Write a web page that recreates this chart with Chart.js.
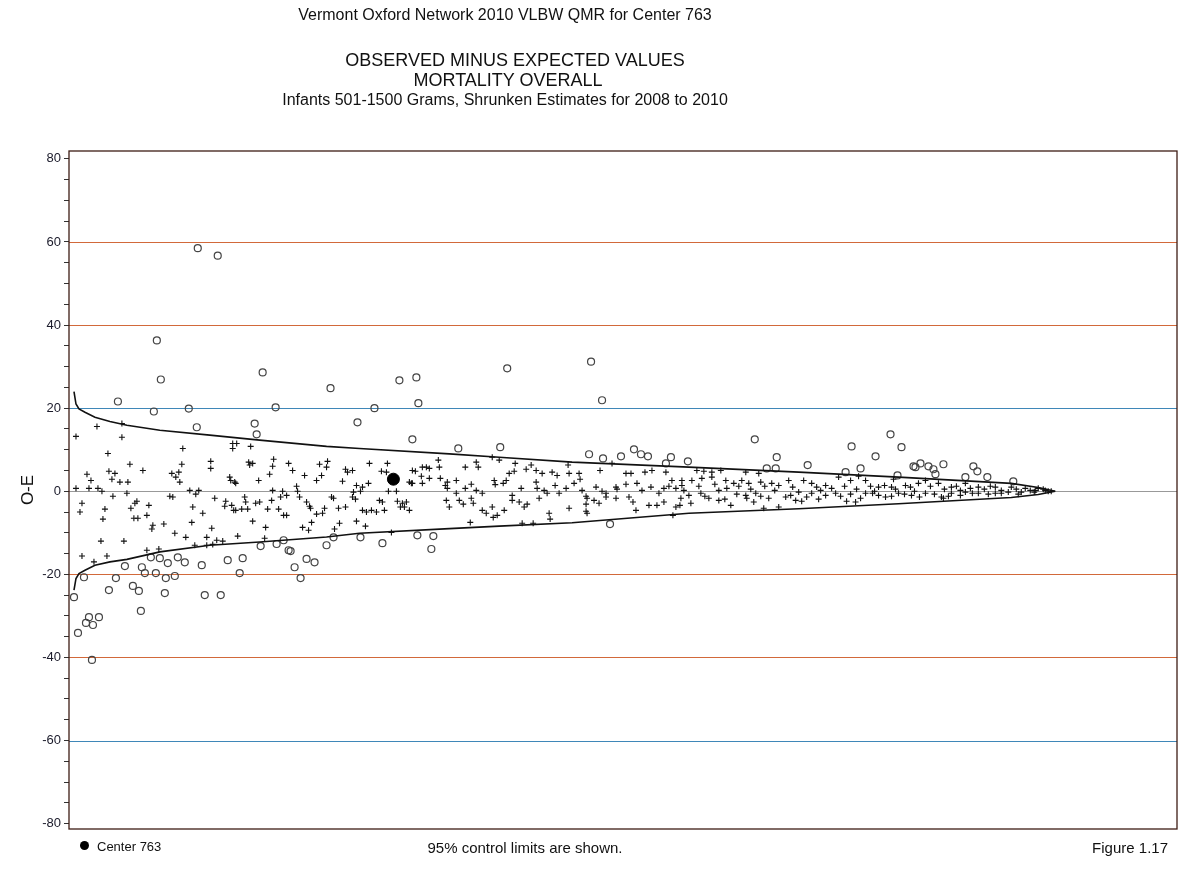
<!DOCTYPE html>
<html>
<head>
<meta charset="utf-8">
<script src="https://cdn.jsdelivr.net/npm/chart.js@4.4.0/dist/chart.umd.min.js"></script>
<style>
  html, body { margin: 0; padding: 0; background: #fff; }
  #wrap { position: relative; width: 1184px; height: 883px; font-family: "Liberation Sans", Arial, sans-serif; color: #111; }
  #wrap canvas { position: absolute; left: 0; top: 0; }
  .txt { position: absolute; white-space: nowrap; line-height: 1; }
  .ctr { transform: translateX(-50%); }
  .dot { position: absolute; width: 9px; height: 9px; border-radius: 50%; background: #000; }
</style>
</head>
<body>
<div id="wrap">
  <canvas id="chart" width="1184" height="883"></canvas>
  <div class="txt ctr" style="left:505px; top:7px; font-size:16px;">Vermont Oxford Network 2010 VLBW QMR for Center 763</div>
  <div class="txt ctr" style="left:515px; top:51px; font-size:18px;">OBSERVED MINUS EXPECTED VALUES</div>
  <div class="txt ctr" style="left:508px; top:71px; font-size:18px;">MORTALITY OVERALL</div>
  <div class="txt ctr" style="left:505px; top:92px; font-size:16px;">Infants 501-1500 Grams, Shrunken Estimates for 2008 to 2010</div>
  <div class="dot" style="left:80px; top:841px;"></div>
  <div class="txt" style="left:97px; top:840px; font-size:13px;">Center 763</div>
  <div class="txt ctr" style="left:525px; top:840px; font-size:15px;">95% control limits are shown.</div>
  <div class="txt" style="right:16px; top:840px; font-size:15px;">Figure 1.17</div>
</div>
<script>
// x is the rank of each center along the funnel (no labelled axis), y is O-E

// 95% control limits
const limitX     = [5, 7, 10, 16, 26, 41, 58, 91, 141, 191, 258, 291, 381, 431, 504, 621, 731, 831, 944, 971, 988];
const upperLimit = [24.0, 21.0, 19.8, 19.0, 17.8, 16.8, 15.9, 14.7, 13.5, 12.3, 10.8, 10.3, 9.0, 8.2, 7.0, 5.8, 4.6, 3.4, 1.9, 0.9, 0];
const lowerLimit = [-23.8, -21.0, -19.8, -19.0, -17.8, -17.0, -16.4, -14.6, -13.0, -12.2, -11.0, -10.1, -9.0, -8.4, -7.6, -5.3, -4.2, -3.0, -1.5, -0.8, 0];

// centers outside the limits (open circles)
const outsideX = [129, 149, 88, 92, 194, 262, 49, 85, 120, 207, 128, 186, 188, 289, 306, 331, 348, 350, 344, 390, 432, 439, 523, 534,
  521, 535, 553, 566, 573, 580, 598, 603, 620, 687, 699, 708, 709, 740, 778, 784, 793, 808, 823, 830, 834, 846, 848, 853, 861, 866,
  868, 876, 898, 906, 910, 920, 946,
  5, 9, 15, 17, 20, 24, 30, 23, 40, 47, 56, 64, 70, 73, 76, 72, 82, 87, 91, 97, 96, 99, 106, 109, 116, 133, 136, 152, 159, 171, 174,
  192, 208, 215, 220, 222, 226, 232, 238, 246, 258, 265, 292, 314, 349, 365, 363, 542];
const outsideY = [58.5, 56.7, 36.3, 26.9, 28.6, 24.8, 21.6, 19.2, 19.9, 20.2, 15.4, 16.3, 13.7, 16.6, 20.0, 26.7, 27.4, 21.2, 12.5, 10.3, 10.6, 29.6, 31.2, 21.9,
  8.9, 7.9, 8.4, 10.1, 8.9, 8.4, 6.7, 8.2, 7.2, 12.5, 5.5, 5.5, 8.2, 6.3, 4.6, 10.8, 5.5, 8.4, 13.7, 3.8, 10.6, 6.0, 5.8, 6.7, 6.0, 5.3,
  4.1, 6.5, 3.4, 6.0, 4.8, 3.4, 2.4,
  -25.5, -34.1, -20.7, -31.7, -30.3, -32.2, -30.3, -40.6, -23.8, -20.9, -18.0, -22.8, -24.0, -18.3, -19.7, -28.8, -15.9, -19.7, -16.1, -20.9, -24.5, -17.3, -20.4, -15.9, -17.1, -17.8, -25.0, -25.0, -16.6, -19.7, -16.1,
  -13.2, -12.7, -11.8, -14.2, -14.4, -18.3, -20.9, -16.3, -17.1, -13.0, -11.1, -11.1, -12.5, -10.6, -10.8, -13.9, -7.9];

// centers inside the limits (crosses)
const insideX = [28, 53, 7, 53, 39, 61, 114, 113, 142, 142, 74, 18, 22, 40, 46, 43, 51, 59, 103, 110, 107, 111, 7, 20, 29, 33, 58, 121, 130, 127,
  101, 104, 44, 146, 161, 166, 157, 176, 180, 184, 13, 11, 36, 34, 68, 66, 62, 80, 78, 65, 69, 124, 134, 156, 163, 165, 173, 179, 187,
  84, 83, 95, 106, 123, 117, 143, 138, 148, 154, 169, 184, 32, 55, 13, 38, 78, 90, 126, 138, 144, 25,
  164, 168, 164, 182, 205, 204, 220, 224, 259, 258, 251, 253, 277, 279, 284, 301, 319, 318, 313, 344, 354, 181, 201, 167, 162, 190,
  236, 248, 228, 274, 288, 300, 294, 292, 204, 214, 229, 231, 218, 285, 320, 328, 341, 343, 347, 353, 354, 177, 191, 203, 212, 238,
  263, 265, 284, 287, 311, 314, 329, 334, 338, 332, 336, 341, 167, 199, 210, 215, 218, 242, 256, 254, 248, 270, 277, 294, 298, 303,
  308, 316, 241, 234, 240, 243, 266, 271, 288, 297, 197, 196, 323,
  370, 371, 358, 361, 344, 361, 372, 379, 377, 388, 397, 403, 408, 410, 424, 431, 426, 435, 438, 441, 447, 446, 458, 463, 468, 468,
  474, 484, 489, 500, 501, 511, 512, 532, 544, 558, 563, 577, 584, 598, 604, 614, 379, 388, 397, 408, 414, 427, 444, 453, 469, 476,
  479, 487, 491, 498, 506, 514, 518, 528, 534, 538, 548, 549, 558, 569, 574, 583, 591, 596, 601, 608, 614, 378, 381, 391, 395, 403,
  405, 414, 418, 425, 429, 436, 424, 444, 451, 456, 459, 471, 481, 482, 501, 519, 518, 526, 531, 518, 519, 538, 548, 561, 565, 568,
  581, 589, 596, 608, 613, 454, 465, 605, 402,
  629, 636, 644, 653, 691, 644, 624, 634, 658, 666, 674, 681, 693, 704, 711, 721, 736, 744, 758, 771, 783, 798, 811, 824, 838, 851,
  858, 871, 884, 898, 911, 928, 944, 958, 971, 616, 621, 633, 641, 651, 663, 651, 678, 679, 688, 696, 701, 711, 718, 728, 734, 744,
  758, 768, 779, 788, 798, 811, 818, 831, 844, 858, 874, 884, 898, 911, 928, 941, 954, 968, 978, 984, 612, 623, 876,
  631, 647, 659, 671, 683, 697, 707, 725, 731, 749, 753, 764, 777, 789, 803, 807, 817, 828, 843, 847, 863, 877, 889, 893, 903, 917,
  923, 934, 949, 963, 976, 981, 637, 657, 669, 686, 693, 723, 739, 751, 773, 783, 793, 805, 824, 837, 852, 867, 881, 893, 905, 921,
  934, 951, 967, 791, 826, 678];
const insideY = [15.6, 16.3, 13.2, 13.0, 9.1, 6.5, 10.3, 6.5, 7.2, 5.5, 5.0, 4.1, 2.6, 4.8, 4.3, 2.9, 2.2, 2.2, 4.3, 4.6, 3.4, 2.2, 0.7, 0.7, 0.7, 0, -0.5, 0.2, 0.2, -0.7,
  -1.2, -1.4, -1.2, -1.7, 3.4, 2.2, -2.4, -1.4, 7.0, 6.7, -2.9, -5.0, -4.3, -6.7, -2.4, -2.9, -4.1, -3.4, -5.8, -6.5, -6.5, -3.8, -5.3, -3.6, -3.4, -4.6, -4.3, -4.3, -2.9,
  -8.2, -9.1, -7.9, -10.1, -7.5, -11.1, -8.9, -11.1, -11.8, -12.0, -10.8, -7.2, -12.0, -12.0, -15.6, -15.6, -14.2, -13.9, -13.0, -13.0, -12.8, -17.0,
  11.5, 11.5, 10.3, 10.8, 7.7, 6.0, 6.7, 5.0, 7.2, 5.8, 6.5, 3.8, 5.3, 4.6, 5.0, 6.7, 6.7, 4.6, 4.8, 5.0, 5.8, 6.3, 4.1, 1.9, 2.6, 2.6,
  3.8, 2.6, 1.2, 2.4, 1.4, 1.9, 1.0, 0, 0.2, 0, 0, -1.4, -1.0, -0.2, 0, 0, 2.2, 1.9, 4.8, 3.6, 1.9, -2.6, -2.6, -2.2, -1.4, -2.6,
  -1.4, -1.7, -1.4, -1.9, -2.2, -2.6, -2.4, -2.9, -2.6, -3.8, -3.8, -4.6, -4.6, -4.3, -4.3, -5.8, -5.8, -4.1, -4.1, -5.3, -5.5, -4.1, -3.8, -4.6, -5.0, -4.6,
  -5.0, -4.6, -3.6, -8.7, -9.4, -7.5, -9.1, -7.7, -7.2, -8.4, -8.7, -11.3, -9.9,
  7.5, 5.8, 5.8, 5.5, 1.9, 3.1, 3.1, 2.2, 1.4, 2.6, 5.8, 1.7, 7.0, 5.8, 8.2, 7.5, 2.6, 1.9, 2.6, 4.3, 6.7, 4.8, 5.3, 6.3, 5.0, 2.2,
  4.3, 4.6, 3.8, 6.3, 4.3, 4.3, 2.9, 5.0, 6.7, 4.3, 4.3, 4.6, 5.0, 4.6, 2.6, 2.6, 0.7, -0.5, 0.7, 0.2, -0.5, 1.6, -1.0, 0.7, 0.7, 0.2,
  -0.5, 1.4, -0.5, 0.7, 1.9, 0.2, -1.2, 1.0, 0, -0.5, 1.0, 0.5, 1.7, 1.9, 0.2, 1.0, -0.5, 0.7, 1.2, 0.7, 1.4, -2.2, -3.8, -2.2, -3.1, -1.7,
  -2.9, -4.6, -5.3, -6.3, -5.8, -4.6, -3.8, -2.2, -2.6, -3.8, -3.1, -1.7, -5.3, -6.7, -4.1, -1.7, -3.1, -2.2, -2.9, -4.8, -5.3, -1.4, -1.7, -1.4, -2.6, -4.6,
  -3.4, -3.4, -2.6, -3.8, -1.7, -7.7, -7.7, -5.8, -7.5,
  5.0, 4.8, 4.6, 5.0, 4.3, 3.4, 2.6, 3.1, 2.6, 1.9, 2.6, 1.9, 2.2, 1.9, 1.4, 2.6, 2.6, 1.9, 1.4, 3.4, 2.6, 2.6, 1.0, 1.0, 1.4, 1.9,
  2.6, 1.9, 1.0, 1.9, 1.0, 1.0, 1.0, 0.7, 0.7, 0.2, -1.0, -0.5, -1.7, 0.2, -3.4, -2.2, -1.0, -1.7, -0.5, -4.1, -1.7, -3.8, -1.4, -2.2, -2.4, -0.5,
  -1.0, -0.5, -2.4, -2.6, -0.5, -1.0, -1.4, -0.5, -1.0, -0.5, -1.4, -0.5, -0.2, -0.5, -0.5, -0.2, -0.2, 0.2, 0.2, 0, -3.4, -2.9, -1.7,
  1.2, 1.7, 0.7, 1.2, 0.5, 1.2, 0.2, 1.0, -0.2, 1.0, 0.2, 0.7, 1.2, 0.5, 1.2, 0, 1.4, 0.5, 1.0, 0, 1.2, 0.5, 1.2, 0.2, 0.7, 0.5,
  1.2, 0.2, 0.5, 0.2, 0.5, 0, -1.2, -1.9, -0.7, -2.6, -1.2, -1.0, -1.4, -1.9, -1.2, -0.7, -1.7, -0.5, -1.2, -0.7, -1.4, -0.7, -1.2, -1.0, -0.5, -0.7,
  -0.5, -0.7, -0.2, 3.6, 2.9, 4.6];

// the highlighted center
const centerX = [325];
const centerY = [2.9];

// reference lines across the plot
const refLines = [60, 40, 20, 0, -20, -40, -60];

const toPoints = (xs, ys) => xs.map((x, i) => ({ x, y: ys[i] }));

const orange = '#d2693a';
const blue = '#3f87b8';
const refColour = v => (v === 0 ? '#999999' : (v === 20 || v === -60) ? blue : orange);

// horizontal reference lines + frame round the plot area
const refLinesPlugin = {
  id: 'refLines',
  beforeDatasetsDraw(chart) {
    const { ctx, chartArea: { left, right }, scales: { y } } = chart;
    ctx.save();
    ctx.lineWidth = 1;
    refLines.forEach(v => {
      const py = Math.round(y.getPixelForValue(v)) + 0.5;
      ctx.strokeStyle = refColour(v);
      ctx.beginPath();
      ctx.moveTo(left, py);
      ctx.lineTo(right, py);
      ctx.stroke();
    });
    ctx.restore();
  },
  afterDatasetsDraw(chart) {
    const { ctx, chartArea: { left, top, right, bottom } } = chart;
    ctx.save();
    ctx.strokeStyle = '#3e1d14';
    ctx.lineWidth = 1.3;
    ctx.strokeRect(left, top, right - left, bottom - top);
    ctx.restore();
  }
};

new Chart(document.getElementById('chart'), {
  type: 'scatter',
  plugins: [refLinesPlugin],
  data: {
    datasets: [
      {
        label: 'Center 763',
        data: toPoints(centerX, centerY),
        pointStyle: 'circle',
        pointRadius: 6,
        backgroundColor: '#000',
        borderColor: '#000'
      },
      {
        label: 'Upper limit',
        data: toPoints(limitX, upperLimit),
        showLine: true,
        pointRadius: 0,
        borderColor: '#111',
        borderWidth: 1.6,
        tension: 0
      },
      {
        label: 'Lower limit',
        data: toPoints(limitX, lowerLimit),
        showLine: true,
        pointRadius: 0,
        borderColor: '#111',
        borderWidth: 1.6,
        tension: 0
      },
      {
        label: 'Outside limits',
        data: toPoints(outsideX, outsideY),
        pointStyle: 'circle',
        pointRadius: 3.5,
        borderWidth: 1.2,
        borderColor: '#444',
        backgroundColor: 'rgba(0,0,0,0)'
      },
      {
        label: 'Inside limits',
        data: toPoints(insideX, insideY),
        pointStyle: 'cross',
        pointRadius: 3,
        borderWidth: 1.1,
        borderColor: '#111'
      }
    ]
  },
  options: {
    responsive: false,
    animation: false,
    layout: { padding: { left: 0, top: 151, right: 5, bottom: 54 } },
    plugins: {
      legend: { display: false },
      tooltip: { enabled: false }
    },
    scales: {
      x: { type: 'linear', min: 0, max: 1110, display: false },
      y: {
        min: -81.3,
        max: 81.9,
        afterFit(scale) { scale.width = 69; },
        afterBuildTicks(scale) {
          const ticks = [];
          for (let v = -80; v <= 80; v += 5) ticks.push({ value: v });
          scale.ticks = ticks;
        },
        border: { display: false },
        grid: {
          drawOnChartArea: false,
          tickLength: 5,
          tickColor: '#333'
        },
        ticks: {
          padding: 3,
          color: '#1a1a2a',
          font: { family: '"Liberation Sans", Arial, sans-serif', size: 13 },
          callback: v => (v % 20 === 0 ? v : '')
        },
        title: {
          display: true,
          text: 'O-E',
          color: '#111',
          font: { family: '"Liberation Sans", Arial, sans-serif', size: 17 },
          padding: { top: 18, bottom: 0 }
        }
      }
    }
  }
});
</script>
</body>
</html>
